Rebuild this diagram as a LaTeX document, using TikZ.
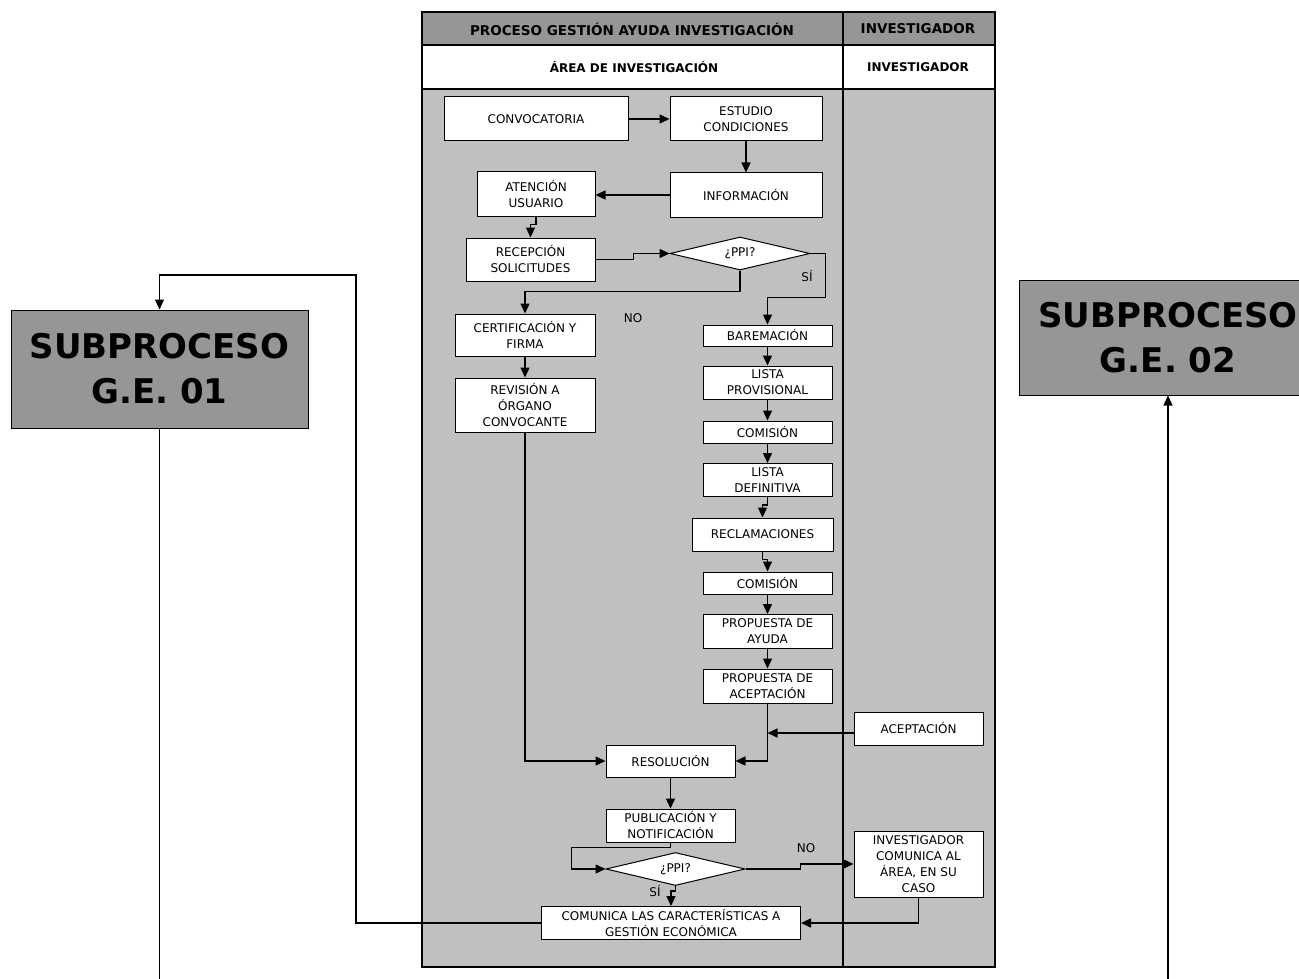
\documentclass[tikz,border=0pt]{standalone}
\usepackage{fontspec}
\setmainfont{DejaVu Sans}
\usetikzlibrary{arrows.meta,shapes.geometric}
\definecolor{headgray}{RGB}{150,150,150}
\definecolor{lanegray}{RGB}{192,192,192}
\begin{document}
\begin{tikzpicture}[x=1pt,y=-1pt,
  box/.style={draw=black, fill=white, line width=1pt, inner sep=0pt, align=center,
    font=\fontsize{12}{16}\selectfont},
  dec/.style={box, shape=diamond, aspect=4},
  flow/.style={draw=black, line width=1.4pt, -{Triangle[length=10pt,width=9pt]}},
  wire/.style={draw=black, line width=1.4pt},
  subbox/.style={draw=black, fill=headgray, line width=1pt, inner sep=0pt, align=center,
    font=\fontsize{34}{45}\selectfont\bfseries},
  tag/.style={font=\fontsize{12}{14}\selectfont, inner sep=0pt},
  headA/.style={font=\fontsize{13.5}{16}\selectfont\bfseries, inner sep=0pt},
  headB/.style={font=\fontsize{12}{14}\selectfont\bfseries, inner sep=0pt},
  lane/.style={draw=black, line width=1.5pt}
]
\useasboundingbox (0,0) rectangle (1299,979);
\fill[white] (0,0) rectangle (1299,979);

% swimlane frame
\fill[headgray] (422,12) rectangle (995,45);
\fill[lanegray] (422,89) rectangle (995,967);
\draw[lane] (422,12) rectangle (995,967);
\draw[lane] (422,45) -- (995,45) (422,89) -- (995,89) (843,12) -- (843,967);

\node[headA] (hproc) at (632,29) {PROCESO GESTIÓN AYUDA INVESTIGACIÓN};
\node[headA] (hinv) at (918,29) {INVESTIGADOR};
\node[headB] (harea) at (634,67) {ÁREA DE INVESTIGACIÓN};
\node[headB] (hinv2) at (918,67) {INVESTIGADOR};

% process steps
\node[box, minimum width=184pt, minimum height=44pt] (conv) at (536,119) {CONVOCATORIA};
\node[box, minimum width=152pt, minimum height=44pt] (est) at (746,119) {ESTUDIO\\CONDICIONES};
\node[box, minimum width=152pt, minimum height=44pt] (info) at (746,195) {INFORMACIÓN};
\node[box, minimum width=118pt, minimum height=44pt] (aten) at (536,194) {ATENCIÓN\\USUARIO};
\node[box, minimum width=129pt, minimum height=43pt] (recep) at (530.5,259.5) {RECEPCIÓN\\SOLICITUDES};
\node[dec, minimum width=140pt, minimum height=33pt] (d1) at (740,253.5) {¿PPI?};
\node[box, minimum width=140pt, minimum height=42pt] (cert) at (525,335) {CERTIFICACIÓN Y\\FIRMA};
\node[box, minimum width=140pt, minimum height=54pt] (rev) at (525,405) {REVISIÓN A\\ÓRGANO\\CONVOCANTE};
\node[box, minimum width=129pt, minimum height=21pt] (bare) at (767.5,335.5) {BAREMACIÓN};
\node[box, minimum width=129pt, minimum height=33pt] (lp) at (767.5,382.5) {LISTA\\PROVISIONAL};
\node[box, minimum width=129pt, minimum height=22pt] (com1) at (767.5,432) {COMISIÓN};
\node[box, minimum width=129pt, minimum height=33pt] (ld) at (767.5,480) {LISTA\\DEFINITIVA};
\node[box, minimum width=141pt, minimum height=33pt] (recl) at (762.5,534.5) {RECLAMACIONES};
\node[box, minimum width=129pt, minimum height=22pt] (com2) at (767.5,583) {COMISIÓN};
\node[box, minimum width=129pt, minimum height=34pt] (pa) at (767.5,631.5) {PROPUESTA DE\\AYUDA};
\node[box, minimum width=129pt, minimum height=34pt] (pac) at (767.5,686) {PROPUESTA DE\\ACEPTACIÓN};
\node[box, minimum width=129pt, minimum height=33pt] (acep) at (918.5,728.5) {ACEPTACIÓN};
\node[box, minimum width=129pt, minimum height=32pt] (res) at (670.5,761) {RESOLUCIÓN};
\node[box, minimum width=129pt, minimum height=33pt] (pub) at (670.5,825.5) {PUBLICACIÓN Y\\NOTIFICACIÓN};
\node[dec, minimum width=139pt, minimum height=33pt] (d2) at (675.5,869) {¿PPI?};
\node[box, minimum width=129pt, minimum height=66pt] (inv) at (918.5,864) {INVESTIGADOR\\COMUNICA AL\\ÁREA, EN SU\\CASO};
\node[box, minimum width=259pt, minimum height=33pt] (com) at (671,923) {COMUNICA LAS CARACTERÍSTICAS A\\GESTIÓN ECONÓMICA};

% subprocesses
\node[subbox, minimum width=297pt, minimum height=118pt] (sub1) at (159.5,369) {SUBPROCESO\\G.E. 01};
\node[subbox, minimum width=297pt, minimum height=115pt] (sub2) at (1168,337.5) {SUBPROCESO\\G.E. 02};

% decision labels
\node[tag] (si1) at (807,276) {SÍ};
\node[tag] (no1) at (633,318) {NO};
\node[tag] (no2) at (806,848) {NO};
\node[tag] (si2) at (655,891) {SÍ};

% free ends at the lower edge
\coordinate (e1) at (159.5,990);
\coordinate (e2) at (1168,990);
\coordinate (jacep) at (767.5,733);

% connectors
\draw[flow] (conv.east) -- (est.west);
\draw[flow] (est.south) -- (info.north);
\draw[flow] (info.west) -- (info.west -| aten.east);
\draw[flow] (aten.south) -- ++(0,8) -| (recep.north);
\draw[flow] (recep.east) -- ++(38,0) |- (d1.west);
\draw[flow] (d1.east) -- ++(15,0) -- ++(0,44) -| (bare.north);
\draw[flow] (d1.south) -- ++(0,21) -| (cert.north);
\draw[flow] (cert.south) -- (rev.north);
\draw[flow] (rev.south) |- (res.west);
\draw[flow] (bare.south) -- (lp.north);
\draw[flow] (lp.south) -- (com1.north);
\draw[flow] (com1.south) -- (ld.north);
\draw[flow] (ld.south) -- ++(0,8) -| (recl.north);
\draw[flow] (recl.south) -- ++(0,8) -| (com2.north);
\draw[flow] (com2.south) -- (pa.north);
\draw[flow] (pa.south) -- (pac.north);
\draw[flow] (pac.south) |- (res.east);
\draw[flow] (acep.west |- jacep) -- (jacep);
\draw[flow] (res.south) -- (pub.north);
\draw[flow] (pub.south) -- ++(0,5) -| ([xshift=-34pt]d2.west) -- (d2.west);
\draw[flow] (d2.east) -- ++(55,0) |- (inv.west);
\draw[flow] (d2.south) -- ++(0,5) -| (com.north);
\draw[flow] (inv.south) |- (com.east);
\draw[flow] (com.west) -| (356,275) -| (sub1.north);
\draw[wire] (sub1.south) -- (e1);
\draw[flow] (e2) -- (sub2.south);
\end{tikzpicture}
\end{document}
